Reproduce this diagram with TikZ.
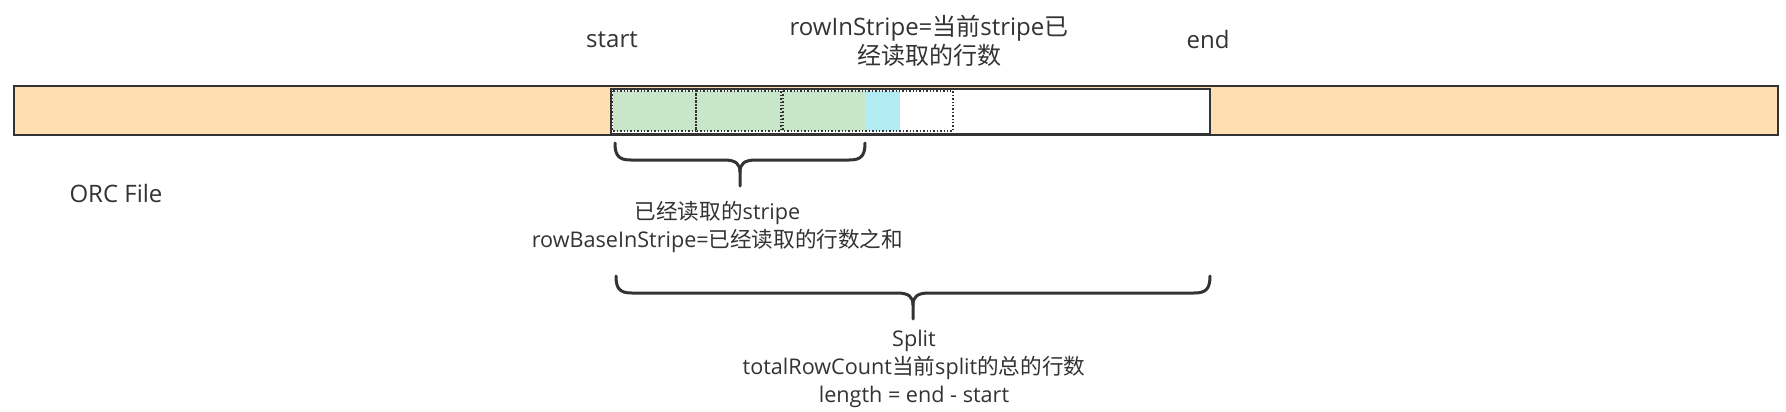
\documentclass[tikz,border=0pt]{standalone}
\usepackage{fontspec}
\setmainfont{Open Sans}
\newfontfamily\cjk{Noto Sans CJK SC}
\definecolor{barfill}{HTML}{FFDFB1}
\definecolor{greenfill}{HTML}{C8E6C9}
\definecolor{cyanfill}{HTML}{B2EBF2}
\definecolor{linegray}{HTML}{333333}
\definecolor{txtgray}{HTML}{333333}
\tikzset{
  txt/.style={inner sep=0pt, text=txtgray, font=\fontsize{21.6}{28}\selectfont, align=center},
  bigtxt/.style={txt, font=\fontsize{24}{29}\selectfont},
  bar/.style={draw=linegray, line width=2pt},
  cell/.style={draw=linegray, dotted, line width=1.4pt},
  bracepath/.style={draw=linegray, line width=3pt, line cap=round, line join=round},
}
\newcommand\mybrace[6]{% x1 x2 top horiz tipx tipy
  \draw[bracepath] (#1,#3) .. controls (#1,#4-4) and (#1+4,#4) .. (#1+16,#4)
     -- (#5-16,#4) .. controls (#5-4,#4) and (#5,#4+4) .. (#5,#4+12) -- (#5,#6);
  \draw[bracepath] (#2,#3) .. controls (#2,#4-4) and (#2-4,#4) .. (#2-16,#4)
     -- (#5+16,#4) .. controls (#5+4,#4) and (#5,#4+4) .. (#5,#4+12);
}
\begin{document}
\begin{tikzpicture}[x=1pt,y=-1pt]
\useasboundingbox (0,0) rectangle (1786,412);
\fill[white] (0,0) rectangle (1786,412);
% ORC file bar
\draw[bar, fill=barfill] (13.5,86) rectangle (1778,135);
\draw[bar, fill=white] (611,88.5) rectangle (1210,133.5);
% stripes
\fill[greenfill] (612.5,91) rectangle (865,131);
\fill[cyanfill] (865,91) rectangle (900,131);
\draw[cell] (612.5,91) rectangle (696,131);
\draw[cell] (696,91) rectangle (781,131);
\draw[cell] (783,91) rectangle (953,131);
% braces
\mybrace{615}{865}{143}{160}{740}{186}
\mybrace{616}{1210}{276}{293}{913}{319}
% texts
\node[bigtxt] (start) at (612,40) {start};
\node[bigtxt] (end) at (1208,40) {end};
\node[bigtxt] (ris) at (929,40.5) {rowInStripe={\cjk 当前}stripe{\cjk 已}\\{\cjk 经读取的行数}};
\node[bigtxt] (orc) at (116,193) {ORC File};
\node[txt] (read) at (717.5,227) {{\cjk 已经读取的}stripe\\rowBaseInStripe={\cjk 已经读取的行数之和}};
\node[txt] (split) at (914,369) {Split\\totalRowCount{\cjk 当前}split{\cjk 的总的行数}\\length = end - start};
\end{tikzpicture}
\end{document}
